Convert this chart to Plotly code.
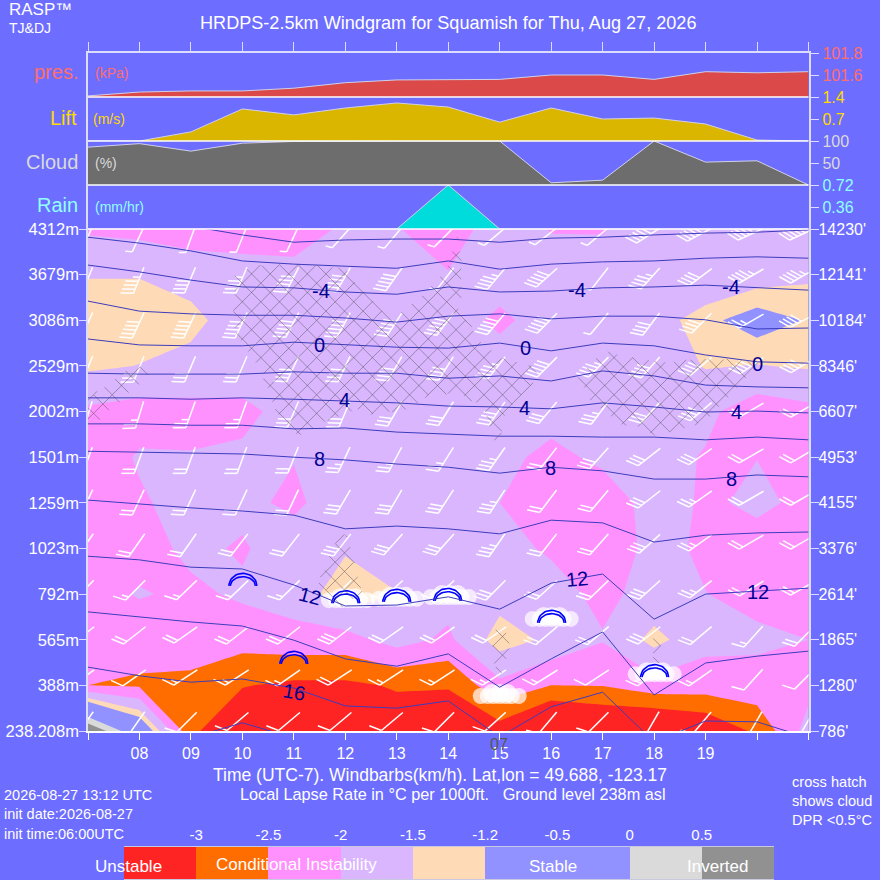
import math
import plotly.graph_objects as go

hours = list(range(7, 22))
hour_labels = ['', '08', '09', '10', '11', '12', '13', '14', '15', '16', '17', '18', '19', '', '']
levels = list(range(12))
metres = ['238.208m', '388m', '565m', '792m', '1023m', '1259m', '1501m', '2002m', '2529m', '3086m', '3679m', '4312m']
feet = ["786'", "1280'", "1865'", "2614'", "3376'", "4155'", "4953'", "6607'", "8346'", "10184'", "12141'", "14230'"]

pressure = [101.41, 101.445, 101.455, 101.455, 101.48, 101.53, 101.555, 101.56, 101.56, 101.6, 101.6, 101.56, 101.63, 101.62, 101.63]
lift = [0, 0, 0.29, 1.02, 0.83, 1.05, 1.21, 1.08, 0.6, 1.05, 0.7, 0.73, 0.54, 0.03, 0]
cloud = [86, 94, 77, 95, 99, 100, 100, 100, 100, 5, 11, 100, 52, 55, 0]
rain = [0, 0, 0, 0, 0, 0, 0, 0.72, 0, 0, 0, 0, 0, 0, 0]

# lapse rate per level (bottom first), one value per hour
lapse = [
    [1.1, -0.6, -2.89, -3.5, -3.5, -3.5, -3.3, -3.3, -3.25, -4.0, -3.7, -3.8, -3.5, -2.89, -1.8],
    [-2.5, -2.57, -2.6, -2.97, -3.1, -3.1, -2.95, -2.97, -2.13, -2.5, -2.48, -2.2, -2.25, -2.2, -2.15],
    [-2.47, -2.3, -2.3, -2.3, -2.2, -2.2, -1.8, -2.1, -1.28, -1.6, -1.97, -1.35, -1.85, -1.9, -2.0],
    [-2.2, -1.96, -2.1, -1.92, -1.75, -1.26, -1.48, -1.8, -1.7, -1.85, -2.1, -1.85, -1.99, -2.15, -2.2],
    [-2.3, -2.2, -1.89, -2.05, -1.74, -1.55, -1.8, -1.8, -1.88, -2.05, -2.4, -1.81, -2.1, -2.14, -2.3],
    [-2.4, -2.06, -1.82, -1.88, -2.1, -1.7, -1.8, -1.8, -2.0, -2.4, -2.3, -1.8, -2.06, -1.93, -2.08],
    [-2.3, -1.95, -1.97, -1.93, -1.98, -1.8, -1.8, -1.8, -1.85, -2.14, -1.89, -1.8, -2.04, -2.005, -2.3],
    [-2.09, -2.21, -2.17, -2.1, -1.85, -1.8, -1.8, -1.8, -1.8, -1.8, -1.75, -1.8, -1.88, -2.3, -2.14],
    [-1.42, -1.51, -1.61, -1.77, -1.8, -1.8, -1.8, -1.77, -1.77, -1.8, -1.75, -1.8, -1.47, -1.52, -1.45],
    [-1.3, -1.3, -1.4, -1.7, -1.8, -1.8, -1.8, -1.77, -2.1, -1.77, -1.8, -1.7, -1.3, -1.0, -1.23],
    [-1.52, -1.52, -1.64, -1.85, -1.9, -1.85, -1.8, -1.97, -1.77, -1.74, -1.8, -1.8, -1.9, -1.71, -1.57],
    [-2.08, -2.15, -2.31, -2.18, -2.16, -1.95, -1.97, -2.3, -1.7, -2.03, -2.03, -1.73, -1.7, -1.7, -1.7],
]
lapse_levels = [-3, -2.5, -2, -1.5, -1.2, -0.5, 0, 0.5]
lapse_colors = ['#ff2424', '#ff6d00', '#ff91ff', '#dab6ff', '#ffdab6', '#9191ff', '#9191ff', '#dadada', '#919191']

# isotherms: height in level units at each hour
isotherms = {
    -8: [11.24, 11.15, 11.06, 10.87, 10.71, 10.76, 10.78, 10.78, 10.71, 10.80, 10.82, 10.87, 10.91, 10.93, 10.98],
    -6: [10.82, 10.69, 10.52, 10.30, 10.23, 10.19, 10.14, 10.30, 10.12, 10.23, 10.28, 10.30, 10.36, 10.39, 10.36],
    -4: [10.21, 10.06, 9.88, 9.73, 9.71, 9.62, 9.57, 9.73, 9.62, 9.64, 9.71, 9.73, 9.77, 9.71, 9.66],
    -2: [9.42, 9.20, 9.14, 9.11, 9.11, 9.05, 8.96, 9.09, 9.14, 9.03, 9.09, 9.09, 9.01, 8.81, 8.83],
    0: [8.59, 8.46, 8.44, 8.44, 8.52, 8.46, 8.41, 8.39, 8.50, 8.33, 8.50, 8.44, 8.24, 8.09, 8.06],
    2: [7.84, 7.82, 7.82, 7.82, 7.87, 7.84, 7.84, 7.73, 7.78, 7.67, 7.89, 7.78, 7.58, 7.54, 7.52],
    4: [7.30, 7.30, 7.27, 7.30, 7.27, 7.23, 7.19, 7.12, 7.10, 7.06, 7.19, 7.10, 6.99, 7.01, 6.97],
    6: [6.73, 6.73, 6.70, 6.70, 6.62, 6.64, 6.55, 6.51, 6.46, 6.46, 6.44, 6.44, 6.38, 6.44, 6.38],
    8: [6.13, 6.11, 6.09, 6.07, 6.00, 5.94, 5.85, 5.78, 5.65, 5.78, 5.70, 5.52, 5.52, 5.61, 5.57],
    10: [5.06, 4.97, 4.89, 4.82, 4.73, 4.43, 4.49, 4.43, 4.32, 4.62, 4.56, 4.14, 4.29, 4.34, 4.36],
    12: [3.83, 3.75, 3.59, 3.55, 3.20, 2.74, 2.76, 2.94, 2.67, 3.24, 3.44, 2.45, 3.00, 3.07, 3.13],
    14: [2.61, 2.50, 2.39, 2.30, 1.99, 1.58, 1.42, 1.69, 0.96, 1.58, 2.17, 0.79, 1.49, 1.64, 1.75],
    16: [1.40, 1.21, 1.07, 1.14, 0.94, 0.55, 0.50, 0.66, -0.13, 0.53, 0.85, -0.24, 0.22, 0.20, -0.15],
    18: [None, None, -0.15, 0.18, -0.15, None, None, None, None, None, None, None, None, None, None],
}
iso_label_text = ['-4', '-4', '-4', '0', '0', '0', '4', '4', '4', '8', '8', '8', '12', '12', '12', '16']
iso_label_hour = [11.52, 16.51, 19.50, 11.50, 15.50, 20.01, 11.99, 15.49, 19.60, 11.50, 15.99, 19.50, 11.31, 16.51, 20.01, 11.0]
iso_label_level = [9.64, 9.66, 9.73, 8.46, 8.39, 8.04, 7.25, 7.08, 6.99, 5.96, 5.76, 5.52, 2.96, 3.33, 3.05, 0.85]
iso_label_angle = [0, 0, 0, 0, 0, 0, 0, 0, 0, 0, 0, 0, 15, -5, 0, 10]

# wind direction (deg) and speed (km/h), bottom level first
wind_dir = [
    [215, 215, 225, 230, 230, 230, 230, 225, 228, 220, 225, 210, 220, 210, 210],
    [235, 235, 237, 237, 235, 237, 237, 237, 237, 238, 237, 235, 235, 222, 225],
    [232, 232, 235, 232, 232, 232, 235, 235, 235, 230, 230, 232, 230, 222, 225],
    [225, 225, 226, 226, 226, 225, 228, 228, 225, 228, 226, 228, 232, 238, 240],
    [215, 215, 215, 218, 218, 218, 222, 222, 215, 218, 222, 228, 235, 240, 240],
    [205, 205, 205, 205, 205, 210, 210, 213, 213, 217, 220, 232, 235, 240, 240],
    [200, 200, 200, 200, 202, 205, 208, 212, 215, 218, 222, 232, 235, 240, 240],
    [197, 197, 200, 200, 203, 203, 210, 212, 215, 220, 217, 222, 230, 240, 240],
    [202, 202, 203, 203, 205, 205, 210, 212, 218, 225, 225, 222, 230, 235, 238],
    [205, 205, 205, 205, 208, 208, 213, 217, 220, 225, 220, 217, 225, 240, 242],
    [202, 202, 203, 203, 207, 210, 215, 218, 220, 228, 218, 222, 233, 240, 240],
    [205, 205, 200, 202, 205, 222, 220, 225, 230, 232, 230, 237, 242, 245, 245],
]
wind_speed = [
    [10, 10, 10, 10, 10, 10, 10, 10, 10, 10, 10, 10, 10, 10, 10],
    [10, 10, 15, 15, 15, 20, 15, 15, 15, 15, 10, 15, 15, 10, 10],
    [20, 20, 20, 20, 20, 30, 20, 20, 20, 20, 20, 30, 20, 15, 20],
    [15, 15, 15, 15, 15, 15, 15, 15, 30, 20, 20, 30, 25, 20, 20],
    [20, 20, 20, 20, 20, 30, 30, 30, 35, 20, 20, 30, 25, 20, 20],
    [20, 20, 20, 20, 20, 30, 30, 30, 35, 20, 20, 30, 25, 20, 20],
    [20, 20, 20, 20, 20, 25, 25, 25, 35, 20, 30, 30, 30, 20, 20],
    [25, 25, 25, 25, 30, 30, 30, 30, 40, 30, 35, 30, 40, 20, 20],
    [30, 30, 30, 30, 40, 40, 40, 40, 45, 50, 45, 40, 40, 40, 40],
    [50, 50, 50, 50, 50, 50, 50, 50, 50, 50, 5, 40, 40, 25, 40],
    [45, 45, 40, 45, 50, 50, 50, 5, 45, 50, 5, 45, 40, 45, 45],
    [5, 5, 5, 5, 5, 5, 5, 5, 5, 5, 5, 50, 50, 50, 50],
]
barb_level = [0.35, 1.29, 2.23, 3.24, 4.25, 5.21, 6.14, 7.14, 8.13, 9.09, 10.08, 10.98]

# cross hatched areas (DPR < 0.5C)
cloud_hours = [
    [9.80, 9.85, 10.20, 11.08, 12.03, 12.34, 12.90, 13.29, 13.68, 13.97, 14.17, 14.28, 14.28, 14.22, 14.65, 15.06, 15.64,
     15.74, 15.64, 15.06, 15.04, 14.90, 14.67, 14.22, 13.64, 13.21, 12.53, 12.22, 11.64, 11.08, 10.67, 10.38, 9.89],
    [17.00, 17.33, 17.62, 17.97, 18.30, 18.75, 19.47, 20.05, 19.66, 19.02, 18.63, 18.36, 18.05, 17.66, 17.39, 16.75, 16.51],
    [7.00, 7.72, 8.05, 8.20, 7.23, 7.00],
    [12.03, 12.34, 11.95, 11.47, 11.70, 11.80],
    [14.96, 15.23, 15.16, 15.06, 14.90, 14.84],
    [18.01, 18.15, 18.11, 18.07, 17.97, 17.91],
]
cloud_levels = [
    [9.01, 9.99, 10.21, 10.25, 10.14, 9.66, 9.01, 9.38, 9.77, 10.14, 10.91, 10.36, 9.55, 9.27, 8.52, 8.17, 8.02,
     7.87, 7.58, 6.86, 6.20, 6.33, 7.10, 7.36, 7.36, 7.03, 6.92, 7.03, 6.77, 6.44, 6.92, 7.80, 8.63],
    [8.33, 8.28, 8.19, 8.13, 8.09, 8.17, 8.17, 8.09, 7.52, 6.77, 6.64, 6.55, 6.44, 6.64, 6.70, 7.25, 7.76],
    [7.30, 7.91, 8.00, 7.80, 6.81, 6.81],
    [4.36, 3.05, 2.69, 3.26, 3.86, 4.12],
    [2.39, 2.04, 1.60, 1.23, 1.40, 1.88],
    [2.17, 1.88, 1.60, 1.18, 1.62, 1.95],
]

# cumulus and thermal icons
puff_hour = [12.05, 13.02, 14.03, 16.01, 15.0, 18.01]
puff_level = [2.91, 2.94, 2.98, 2.50, 0.81, 1.29]
glider_hour = [10.01, 11.0, 12.01, 13.0, 13.99, 16.01, 18.01]
glider_level = [3.18, 1.47, 2.80, 2.83, 2.85, 2.37, 1.18]

BG = '#6d6dff'
AXIS = '#dcdcff'
FONT = 'Liberation Sans'
W = 880
PX_H = 51.5    # pixels per hour
PX_L = 45.64   # pixels per level


def off(hour, level, dx, dy):
    return hour + dx / PX_H, level - dy / PX_L


def px_y(top, bottom):
    return [1 - bottom / W, 1 - top / W]


def inside(u, v, poly_u, poly_v):
    hit = False
    n = len(poly_u)
    for a in range(n):
        b = (a + 1) % n
        if (poly_v[a] > v) != (poly_v[b] > v):
            if u < poly_u[a] + (v - poly_v[a]) * (poly_u[b] - poly_u[a]) / (poly_v[b] - poly_v[a]):
                hit = not hit
    return hit


fig = go.Figure()

# lapse rate bands: a constraint contour shades everything under its value, so paint from the top band down
fig.add_shape(type='rect', xref='x domain', yref='y domain', x0=0, x1=1, y0=0, y1=1,
              fillcolor=lapse_colors[-1], line_width=0, layer='below')
for n in range(len(lapse_levels) - 1, -1, -1):
    fig.add_trace(go.Contour(x=hours, y=levels, z=lapse, hoverinfo='skip', showscale=False,
                             contours=dict(type='constraint', operation='>', value=lapse_levels[n]),
                             fillcolor=lapse_colors[n], line=dict(width=0, smoothing=0)))

# wind barbs
bx, by = [], []
for j, level in enumerate(barb_level):
    for i, hour in enumerate(hours):
        th = math.radians(wind_dir[j][i])
        dx, dy = math.sin(th), -math.cos(th)
        x0 = 3
        tip = off(hour, level, x0 - 4 * dx, -4 * dy)
        foot_x, foot_y = x0 + 24 * dx, 24 * dy
        foot = off(hour, level, foot_x, foot_y)
        bx += [tip[0], foot[0], None]
        by += [tip[1], foot[1], None]
        a = math.radians(70 - (wind_dir[j][i] - 200) * 10 / 35)
        fx = dx * math.cos(a) - dy * math.sin(a)
        fy = dx * math.sin(a) + dy * math.cos(a)
        speed = wind_speed[j][i]
        lengths = [13] * (speed // 10) + ([7] if speed % 10 >= 5 else [])
        for k, length in enumerate(lengths):
            sx, sy = foot_x - k * 4.3 * dx, foot_y - k * 4.3 * dy
            p0 = off(hour, level, sx, sy)
            p1 = off(hour, level, sx + length * fx, sy + length * fy)
            bx += [p0[0], p1[0], None]
            by += [p0[1], p1[1], None]
fig.add_trace(go.Scatter(x=bx, y=by, mode='lines', line=dict(color='white', width=1.5),
                         hoverinfo='skip', showlegend=False, cliponaxis=True))

# white cumulus puffs
lobe_dx = [-19, -12, -6, 0, 6, 12, 19, -8, 0, 8]
lobe_dy = [2, 2, 2, 2, 2, 2, 2, -1, -1, -1]
lobe_size = [16, 16, 16, 16, 16, 16, 16, 18, 18, 18]
cx, cy, cs = [], [], []
for hour, level in zip(puff_hour, puff_level):
    for ddx, ddy, size in zip(lobe_dx, lobe_dy, lobe_size):
        p = off(hour, level, ddx, ddy)
        cx.append(p[0])
        cy.append(p[1])
        cs.append(size)
fig.add_trace(go.Scatter(x=cx, y=cy, mode='markers', marker=dict(color='white', size=cs, line_width=0),
                         hoverinfo='skip', showlegend=False))

# glider arcs
gx, gy = [], []
for hour, level in zip(glider_hour, glider_level):
    for half, rise in [(14, 12.5), (12.5, 9.2)]:
        for s in range(0, 25):
            t = math.pi * s / 24
            p = off(hour, level, half * math.cos(t), -rise * math.sin(t))
            gx.append(p[0])
            gy.append(p[1])
        gx.append(None)
        gy.append(None)
fig.add_trace(go.Scatter(x=gx, y=gy, mode='lines', line=dict(color='#0000ff', width=1.6),
                         hoverinfo='skip', showlegend=False))

# isotherms
for temp, heights in isotherms.items():
    fig.add_trace(go.Scatter(x=hours, y=heights, mode='lines', line=dict(color='#3c3cbc', width=1),
                             hoverinfo='skip', showlegend=False))

# cross hatch
hx, hy = [], []
polys = [([(h - 7) * PX_H for h in hs], [(11 - l) * PX_L for l in ls]) for hs, ls in zip(cloud_hours, cloud_levels)]
for sign, phase in [(1, 283.0), (-1, 44.4)]:
    for n in range(-60, 90):
        c = phase + n * 18.6
        for u10 in range(0, 7210, 15):
            u = u10 / 10
            v = (c - u) if sign == 1 else (u - c)
            if any(inside(u, v, pu, pv) for pu, pv in polys):
                hx.append(7 + u / PX_H)
                hy.append(11 - v / PX_L)
            elif hx and hx[-1] is not None:
                hx.append(None)
                hy.append(None)
        if hx and hx[-1] is not None:
            hx.append(None)
            hy.append(None)
fig.add_trace(go.Scatter(x=hx, y=hy, mode='lines', line=dict(color='rgba(70,70,70,0.55)', width=0.8),
                         hoverinfo='skip', showlegend=False))

for text, hour, level, angle in zip(iso_label_text, iso_label_hour, iso_label_level, iso_label_angle):
    fig.add_annotation(x=hour, y=level, text=text, showarrow=False, textangle=angle,
                       font=dict(family=FONT, size=20, color='#000091'))

# top strips
strips = [
    (pressure, 'y2', '#db4949'),
    (lift, 'y3', '#dbb600'),
    (cloud, 'y4', '#6d6d6d'),
    (rain, 'y5', '#00dbdb'),
]
for values, axis, color in strips:
    fig.add_trace(go.Scatter(x=hours, y=values, yaxis=axis, mode='lines', fill='tozeroy', fillcolor=color,
                             line=dict(color='#d0d0e8', width=1), hoverinfo='skip', showlegend=False))
    fig.add_shape(type='line', xref='x domain', yref=axis + ' domain', x0=0, x1=1, y0=0, y1=0,
                  line=dict(color='white', width=1.5))

# empty traces so the feet axis and the top tick axis get drawn
fig.add_trace(go.Scatter(x=[None], y=[None], yaxis='y6', hoverinfo='skip', showlegend=False))
fig.add_trace(go.Scatter(x=[None], y=[None], xaxis='x2', yaxis='y2', hoverinfo='skip', showlegend=False))

# legend bar
fig.add_trace(go.Bar(x=list(range(9)), y=[1] * 9, xaxis='x3', yaxis='y7', width=1, marker=dict(color=lapse_colors, line_width=0),
                     hoverinfo='skip', showlegend=False))

texts = [
    (448, 23, 'HRDPS-2.5km Windgram for Squamish for Thu, Aug 27, 2026', 18.1, 'white', 'center'),
    (7, 10, 'RASP\u2122', 17, 'white', 'left'),
    (7, 28, 'TJ&amp;DJ', 14, 'white', 'left'),
    (80, 72, 'pres.', 20, '#ff6d6d', 'right'),
    (93, 73, '(kPa)', 14, '#ff6d6d', 'left'),
    (79, 118, 'Lift', 20, '#ffdb00', 'right'),
    (91, 119, '(m/s)', 14, '#ffdb00', 'left'),
    (80, 162, 'Cloud', 20, '#dadada', 'right'),
    (93, 163, '(%)', 14, '#dadada', 'left'),
    (80, 205, 'Rain', 20, '#91ffff', 'right'),
    (93, 207, '(mm/hr)', 14, '#91ffff', 'left'),
    (499, 744, '07', 16, '#555555', 'center'),
    (440, 775, 'Time (UTC-7). Windbarbs(km/h). Lat,lon = 49.688, -123.17', 17.5, 'white', 'center'),
    (453, 794, 'Local Lapse Rate in \u00b0C per 1000ft.&nbsp;&nbsp; Ground level 238m asl', 16.3, 'white', 'center'),
    (2, 795, '2026-08-27 13:12 UTC', 14.5, 'white', 'left'),
    (2, 814, 'init date:2026-08-27', 14.5, 'white', 'left'),
    (2, 834, 'init time:06:00UTC', 14.5, 'white', 'left'),
    (790, 782, 'cross hatch', 14.6, 'white', 'left'),
    (790, 801, 'shows cloud', 14.6, 'white', 'left'),
    (790, 820, 'DPR &lt;0.5\u00b0C', 14.6, 'white', 'left'),
    (128, 866, 'Unstable', 17, 'white', 'center'),
    (296, 864, 'Conditional Instability', 17, 'white', 'center'),
    (553, 866, 'Stable', 17, 'white', 'center'),
    (717, 866, 'Inverted', 17, 'white', 'center'),
]
for x, y, text, size, color, anchor in texts:
    fig.add_annotation(xref='paper', yref='paper', x=x / W, y=1 - y / W, text=text, showarrow=False,
                       xanchor=anchor, yanchor='middle',
                       font=dict(family=FONT, size=size, color=color))

right_axis = dict(side='right', anchor='x', showline=True, linecolor=AXIS, linewidth=1.5, mirror=True, ticks='outside',
                  ticklen=9, tickcolor=AXIS, showgrid=False, zeroline=False, fixedrange=True)

fig.update_layout(
    width=W, height=W, margin=dict(l=0, r=0, t=0, b=0, autoexpand=False), autosize=False,
    paper_bgcolor=BG, plot_bgcolor=BG, showlegend=False, bargap=0,
    font=dict(family=FONT, size=16, color='white'),
    xaxis=dict(domain=[88 / W, 808.5 / W], range=[7, 21], tickvals=hours, ticktext=hour_labels, ticks='outside',
               ticklen=7, tickcolor='white', showline=True, linecolor='white', linewidth=1.5,
               showgrid=False, zeroline=False, anchor='y', tickfont=dict(size=16, color='white')),
    xaxis2=dict(overlaying='x', range=[7, 21], anchor='y2', side='top', tickvals=hours, showticklabels=False,
                ticks='outside', ticklen=9, tickcolor=AXIS, showline=True, linecolor=AXIS, linewidth=1.5, showgrid=False),
    yaxis=dict(domain=px_y(229, 731), range=[0, 11], tickvals=levels, ticktext=metres, ticks='outside', ticklen=7,
               ticklabelstandoff=-3, tickcolor=AXIS, showline=True, linecolor=AXIS, linewidth=1.5, showgrid=False,
               zeroline=False, anchor='x', tickfont=dict(size=16.5, color='white')),
    yaxis6=dict(overlaying='y', side='right', anchor='x', range=[0, 11], tickvals=levels, ticktext=feet, ticks='outside',
                ticklen=9, ticklabelstandoff=-4, tickcolor=AXIS, showline=True, linecolor=AXIS, linewidth=1.5,
                showgrid=False, zeroline=False, tickfont=dict(size=16, color='white')),
    yaxis2=dict(domain=px_y(53, 97), range=[101.4, 101.8], tickvals=[101.6, 101.8], ticktext=['101.6', '101.8'],
                tickfont=dict(size=16, color='#ff6d6d'), **right_axis),
    yaxis3=dict(domain=px_y(97, 141), range=[0, 1.4], tickvals=[0.7, 1.4], ticktext=['0.7', '1.4'],
                tickfont=dict(size=16, color='#ffdb00'), **right_axis),
    yaxis4=dict(domain=px_y(141, 185), range=[0, 100], tickvals=[50, 100], ticktext=['50', '100'],
                tickfont=dict(size=16, color='#dadada'), **right_axis),
    yaxis5=dict(domain=px_y(185, 229), range=[0, 0.72], tickvals=[0.36, 0.72], ticktext=['0.36', '0.72'],
                tickfont=dict(size=16, color='#91ffff'), **right_axis),
    xaxis3=dict(domain=[124 / W, 774 / W], range=[-0.5, 8.5], anchor='y7', side='top', tickvals=[k + 0.5 for k in range(8)],
                ticktext=[str(v) for v in lapse_levels], ticklen=0, showgrid=False, zeroline=False,
                showline=True, linecolor='#c8c8e0', mirror=True, tickfont=dict(size=15, color='white')),
    yaxis7=dict(domain=px_y(847, 879), range=[0, 1], anchor='x3', visible=False),
)

fig.write_html('out.html', config=dict(displayModeBar=False),
               post_script="document.body.style.margin='0';document.body.style.overflow='hidden';")
